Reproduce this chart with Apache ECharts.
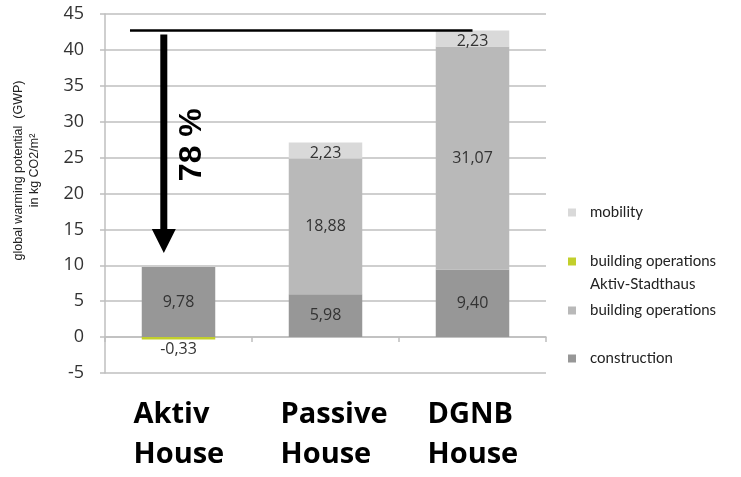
<!DOCTYPE html>
<html>
<head>
<meta charset="utf-8">
<script src="https://cdn.jsdelivr.net/npm/echarts@6/dist/echarts.min.js"></script>
<style>html,body{margin:0;padding:0;background:#fff}#c{width:741px;height:477px}</style>
</head>
<body>
<div id="c"></div>
<script>
const categories = ['Aktiv\nHouse', 'Passive\nHouse', 'DGNB\nHouse'];
const construction = [9.78, 5.98, 9.40];
const buildingOpsAktiv = [-0.33, '-', '-'];
const buildingOps = ['-', 18.88, 31.07];
const mobility = ['-', 2.23, 2.23];
const reductionText = '78 %';
const yMin = -5, yMax = 45, yStep = 5;

const fmt = v => v.value.toFixed(2).replace('.', ',');
const labelStyle = { show: true, position: 'inside', fontFamily: 'Open Sans', fontSize: 16, color: '#333', formatter: fmt };

const chart = echarts.init(document.getElementById('c'), null, { renderer: 'canvas' });
const legendBase = {
  orient: 'vertical', left: 568, padding: 0, itemWidth: 8, itemHeight: 8, icon: 'rect',
  selectedMode: false,
  formatter: n => n.indexOf('\n') >= 0 ? ' \n' + n : n,
  textStyle: { fontFamily: 'Lato', fontSize: 15, color: '#222', lineHeight: 23, padding: [0, 0, 0, 9] }
};
chart.setOption({
  animation: false,
  grid: { left: 105, right: 195, top: 14, bottom: 104, containLabel: false, outerBoundsMode: 'none' },
  legend: [
    Object.assign({}, legendBase, { top: 201, data: ['mobility'] }),
    Object.assign({}, legendBase, { top: 227, data: ['building operations\nAktiv-Stadthaus'] }),
    Object.assign({}, legendBase, { top: 299, data: ['building operations'] }),
    Object.assign({}, legendBase, { top: 347, data: ['construction'] })
  ],
  xAxis: {
    type: 'category', data: categories,
    axisLine: { lineStyle: { color: '#bfbfbf', width: 1.5 } },
    axisTick: { show: true, length: 5, lineStyle: { color: '#bfbfbf', width: 1.5 } },
    axisLabel: {
      margin: 22, interval: 0,
      formatter: v => v.split('\n').map(s => '{a|' + s + '}').join('\n'),
      rich: { a: { width: 90, align: 'left', fontFamily: 'Open Sans', fontWeight: 'bold', fontSize: 29, lineHeight: 40, color: '#000' } }
    }
  },
  yAxis: {
    type: 'value', min: yMin, max: yMax, interval: yStep,
    name: 'global warming potential  (GWP)\nin kg CO2/m²',
    nameLocation: 'middle', nameGap: 62,
    nameTextStyle: { fontFamily: 'Liberation Sans', fontSize: 12.5, color: '#222', lineHeight: 16, padding: [0, 0, 0, 46] },
    axisLine: { show: true, lineStyle: { color: '#bfbfbf', width: 1.5 } },
    axisTick: { show: true, length: 5, lineStyle: { color: '#bfbfbf', width: 1.5 } },
    axisLabel: { margin: 21, fontFamily: 'Open Sans', fontSize: 18, color: '#333' },
    splitLine: { lineStyle: { color: '#bfbfbf', width: 1.5 } }
  },
  series: [
    { name: 'construction', type: 'bar', stack: 's', data: construction, barCategoryGap: '50%',
      itemStyle: { color: '#979797' }, label: labelStyle },
    { name: 'building operations\nAktiv-Stadthaus', type: 'bar', stack: 's', data: buildingOpsAktiv,
      itemStyle: { color: '#c2cf2c' }, label: Object.assign({}, labelStyle, { position: 'bottom', distance: 2 }) },
    { name: 'building operations', type: 'bar', stack: 's', data: buildingOps,
      itemStyle: { color: '#b9b9b9' }, label: labelStyle },
    { name: 'mobility', type: 'bar', stack: 's', data: mobility,
      itemStyle: { color: '#d9d9d9' }, label: Object.assign({}, labelStyle, { position: 'inside', offset: [0, 3] }) }
  ]
});

// annotation: reduction from DGNB total to Aktiv total
const totals = categories.map((c, i) => [construction, buildingOps, mobility]
  .reduce((s, arr) => s + (typeof arr[i] === 'number' ? arr[i] : 0), 0));
const p0 = chart.convertToPixel({ gridIndex: 0 }, [0, 0]);
const p1 = chart.convertToPixel({ gridIndex: 0 }, [1, 0]);
const band = p1[0] - p0[0];
const topY = chart.convertToPixel({ gridIndex: 0 }, [2, totals[2]])[1];
const dgnbX = chart.convertToPixel({ gridIndex: 0 }, [2, totals[2]])[0];
const aktivTopY = chart.convertToPixel({ gridIndex: 0 }, [0, totals[0]])[1];
const ax = p0[0] - band * 0.1;
const shaftTop = topY + 4;
const tipY = aktivTopY - 14;
const headH = 24, headW = 24;
chart.setOption({
  graphic: [
    { type: 'line', shape: { x1: p0[0] - band * 0.33, y1: topY, x2: dgnbX, y2: topY }, style: { stroke: '#000', lineWidth: 2.5 }, z: 100 },
    { type: 'line', shape: { x1: ax, y1: shaftTop, x2: ax, y2: tipY - headH + 2 }, style: { stroke: '#000', lineWidth: 7 }, z: 100 },
    { type: 'polygon', shape: { points: [[ax - headW / 2, tipY - headH], [ax + headW / 2, tipY - headH], [ax, tipY]] }, style: { fill: '#000' }, z: 100 },
    { type: 'text', x: ax + 28, y: (shaftTop + tipY) / 2 + 1, rotation: Math.PI / 2,
      style: { text: reductionText, font: 'bold 32px "Liberation Sans", Arial', fill: '#000', align: 'center', verticalAlign: 'middle' }, z: 100 }
  ]
});
</script>
</body>
</html>
